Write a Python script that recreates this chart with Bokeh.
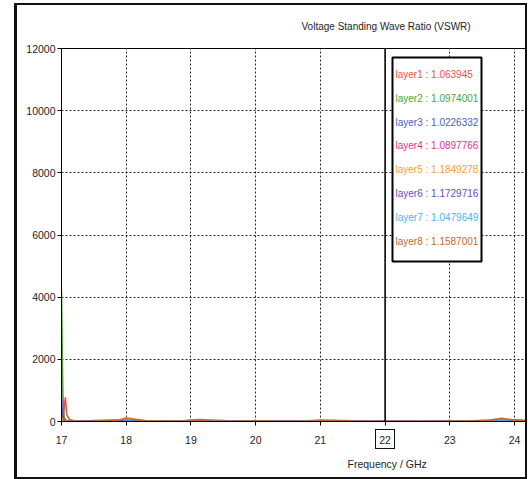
from bokeh.plotting import figure
from bokeh.models import (ColumnDataSource, FixedTicker, Span, Label, BoxAnnotation, Title,
                          InlineStyleSheet)
from bokeh.embed import file_html
from bokeh.resources import INLINE

# ---------------- data ----------------
title_text = "Voltage Standing Wave Ratio (VSWR)"
x_label = "Frequency / GHz"
x_ticks = [17, 18, 19, 20, 21, 22, 23, 24]
y_ticks = [0, 2000, 4000, 6000, 8000, 10000, 12000]
marker_freq = 22

freq = [17.00, 17.02, 17.04, 17.06, 17.08, 17.12, 17.2, 17.35, 17.5, 17.7, 17.9, 18.0,
        18.1, 18.3, 18.6, 18.9, 19.1, 19.3, 19.6, 20.0, 20.4, 20.8, 21.0, 21.2, 21.5,
        21.9, 22.2, 22.6, 23.0, 23.3, 23.6, 23.8, 23.95, 24.2]

layer1 = [30, 60, 420, 780, 220, 60, 25, 15, 10, 12, 15, 20, 25, 18, 15, 30, 60, 45, 20,
          12, 15, 20, 45, 40, 20, 12, 10, 15, 20, 25, 40, 50, 30, 20]
layer2 = [4200, 900, 150, 60, 30, 15, 10, 8, 8, 10, 12, 15, 12, 10, 8, 10, 12, 10, 8,
          20, 25, 15, 10, 12, 10, 8, 10, 12, 20, 25, 20, 30, 40, 15]
layer3 = [200, 120, 50, 25, 15, 10, 8, 12, 20, 25, 22, 18, 15, 10, 8, 6, 8, 10, 12,
          10, 8, 6, 8, 10, 12, 10, 8, 6, 8, 10, 12, 15, 12, 10]
layer4 = [150, 80, 40, 20, 12, 8, 6, 6, 8, 10, 12, 10, 8, 6, 8, 10, 15, 20, 15,
          10, 8, 10, 12, 15, 12, 10, 8, 10, 12, 15, 30, 45, 35, 20]
layer5 = [100, 60, 30, 18, 12, 10, 8, 10, 15, 30, 60, 130, 90, 30, 15, 10, 20, 25, 15,
          10, 12, 15, 25, 30, 15, 10, 12, 15, 10, 12, 30, 60, 40, 30]
layer6 = [780, 200, 60, 30, 18, 12, 10, 15, 30, 35, 30, 25, 20, 12, 10, 8, 10, 12, 10,
          25, 20, 10, 8, 10, 8, 6, 8, 10, 12, 10, 12, 20, 15, 10]
layer7 = [120, 70, 35, 20, 12, 8, 6, 8, 10, 12, 10, 8, 10, 12, 10, 8, 10, 8, 6,
          8, 10, 8, 6, 8, 10, 8, 6, 8, 10, 12, 10, 12, 10, 8]
layer8 = [180, 90, 40, 22, 15, 10, 8, 10, 12, 20, 50, 90, 70, 25, 12, 10, 15, 12, 10,
          12, 10, 8, 15, 20, 12, 10, 8, 10, 12, 15, 40, 100, 60, 25]

layer_names = ["layer1", "layer2", "layer3", "layer4", "layer5", "layer6", "layer7", "layer8"]
layer_values = ["1.063945", "1.0974001", "1.0226332", "1.0897766",
                "1.1849278", "1.1729716", "1.0479649", "1.1587001"]
layer_colors = ["#f0504a", "#4ea43a", "#4a60c6", "#e4348a",
                "#f6a032", "#6a4dba", "#52b2e6", "#c4692a"]
series = [layer1, layer2, layer3, layer4, layer5, layer6, layer7, layer8]

FONT = "Liberation Sans"
TXT = "#1e1e1e"

# ---------------- figure ----------------
p = figure(width=528, height=479, output_backend="svg", toolbar_location=None,
           x_range=(17, 24.17), y_range=(0, 12000),
           min_border_left=61, min_border_right=3, min_border_top=48, min_border_bottom=58)
p.background_fill_color = "white"
p.border_fill_color = "white"
p.outline_line_color = "black"
p.outline_line_width = 1

p.title.text = title_text
p.title.align = "left"
p.title.offset = 240
p.title.text_font = FONT
p.title.text_font_size = "10px"
p.title.text_font_style = "normal"
p.title.text_color = TXT
p.title.standoff = 34

xl = Title(text=x_label, align="left", offset=286, text_font=FONT, text_font_size="10.5px",
           text_font_style="normal", text_color=TXT, standoff=18)
p.add_layout(xl, "below")

for ax in (p.xaxis[0], p.yaxis[0]):
    ax.axis_line_color = "black"
    ax.major_tick_line_color = "black"
    ax.major_tick_in = 0
    ax.major_tick_out = 4
    ax.minor_tick_line_color = None
    ax.major_label_text_font = FONT
    ax.major_label_text_font_size = "10.5px"
    ax.major_label_text_color = TXT

p.xaxis[0].ticker = FixedTicker(ticks=x_ticks)
p.yaxis[0].ticker = FixedTicker(ticks=y_ticks)
p.xaxis[0].major_label_standoff = 10
p.yaxis[0].major_label_standoff = 2

p.grid.grid_line_color = "black"
p.grid.grid_line_dash = "2 2"
p.grid.grid_line_width = 1
p.grid.grid_line_alpha = 0.85
p.xgrid.ticker = FixedTicker(ticks=x_ticks)
p.ygrid.ticker = FixedTicker(ticks=y_ticks)

for vals, col in zip(series, layer_colors):
    src = ColumnDataSource(dict(x=freq, y=vals))
    p.line("x", "y", source=src, line_color=col, line_width=1.6)

p.add_layout(Span(location=marker_freq, dimension="height", line_color="black", line_width=1.5))

# legend box
p.add_layout(BoxAnnotation(left=331, right=420, top=364, bottom=160,
                           left_units="screen", right_units="screen",
                           top_units="screen", bottom_units="screen",
                           fill_color="white", fill_alpha=1,
                           line_color="black", line_width=2, line_alpha=1))
for i, (nm, v, c) in enumerate(zip(layer_names, layer_values, layer_colors)):
    p.add_layout(Label(x=334, y=347 - i * 23.8, x_units="screen", y_units="screen",
                       text=f"{nm} : {v}", text_color=c, text_font=FONT,
                       text_font_size="10px", text_baseline="middle", text_align="left"))

# outer frame and the box round the marker's tick label (page decoration)
p.stylesheets = [InlineStyleSheet(css="""
:host::before { content: ""; position: absolute; left: 14px; top: 3px; width: 513px;
  height: 476px; box-sizing: border-box; border: 2px solid #111; border-left-width: 3px;
  pointer-events: none; z-index: 20; }
:host::after { content: ""; position: absolute; left: 375px; top: 429px; width: 20px;
  height: 20px; box-sizing: border-box; border: 1px solid #111;
  pointer-events: none; z-index: 20; }
""")]

open("out.html", "w").write(file_html(p, INLINE))
